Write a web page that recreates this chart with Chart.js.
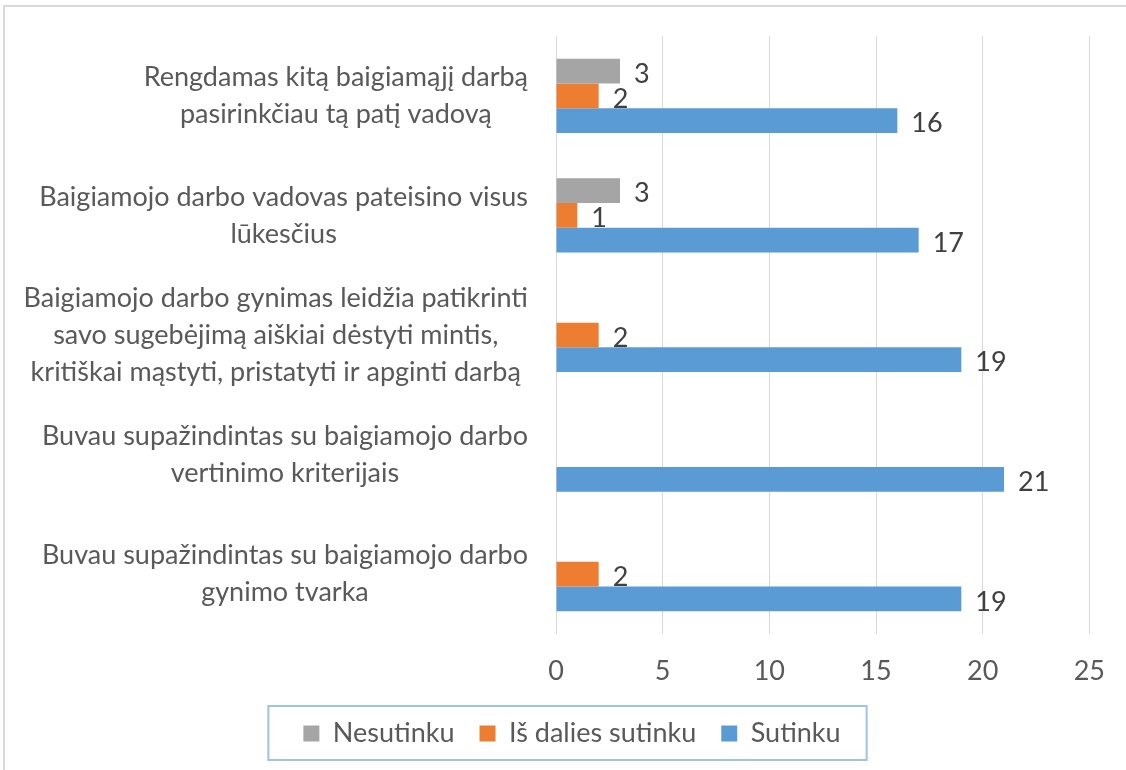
<!DOCTYPE html>
<html>
<head>
<meta charset="utf-8">
<script src="https://cdn.jsdelivr.net/npm/chart.js@4.4.0/dist/chart.umd.min.js"></script>
<style>
  html, body { margin: 0; padding: 0; background: #fff; }
  #wrap { width: 1126px; height: 770px; }
</style>
</head>
<body>
<div id="wrap"><canvas id="chart"></canvas></div>
<script>
const categories = [
  ['Rengdamas kitą baigiamąjį darbą', 'pasirinkčiau tą patį vadovą'],
  ['Baigiamojo darbo vadovas pateisino visus', 'lūkesčius'],
  ['Baigiamojo darbo gynimas leidžia patikrinti', 'savo sugebėjimą aiškiai dėstyti mintis,', 'kritiškai mąstyti, pristatyti ir apginti darbą'],
  ['Buvau supažindintas su baigiamojo darbo', 'vertinimo kriterijais'],
  ['Buvau supažindintas su baigiamojo darbo', 'gynimo tvarka']
];
const seriesNames = ['Nesutinku', 'Iš dalies sutinku', 'Sutinku'];
const nesutinku = [3, 3, null, null, null];
const isDaliesSutinku = [2, 1, 2, null, 2];
const sutinku = [16, 17, 19, 21, 19];
const xTicks = [0, 5, 10, 15, 20, 25];

const FONT = 'Lato';
const FSIZE = 27;
const TEXT = '#595959';

// light frame of the original chart object (top + left edge only)
const frame = {
  id: 'frame',
  beforeDraw(chart) {
    const ctx = chart.ctx;
    ctx.save();
    ctx.fillStyle = '#ffffff';
    ctx.fillRect(0, 0, chart.width, chart.height);
    ctx.fillStyle = '#d9d9d9';
    ctx.fillRect(3, 5, chart.width - 3, 2);
    ctx.fillRect(3, 5, 2, chart.height - 5);
    ctx.restore();
  }
};

// category labels: each label centred on its own lines, right edge near the axis
const catLabels = {
  id: 'catLabels',
  afterDraw(chart) {
    const y = chart.scales.y;
    const ctx = chart.ctx;
    ctx.save();
    ctx.font = FSIZE + 'px ' + FONT;
    ctx.fillStyle = TEXT;
    ctx.textAlign = 'center';
    ctx.textBaseline = 'middle';
    const lineH = 37;
    const right = y.right - 28;
    categories.forEach((lines, i) => {
      const w = Math.max(...lines.map(l => ctx.measureText(l).width));
      const cx = right - w / 2;
      const cy = y.getPixelForValue(i);
      lines.forEach((l, j) => {
        ctx.fillText(l, cx, cy + (j - (lines.length - 1) / 2) * lineH);
      });
    });
    ctx.restore();
  }
};

// value labels at the end of each bar
const valueLabels = {
  id: 'valueLabels',
  afterDatasetsDraw(chart) {
    const ctx = chart.ctx;
    ctx.save();
    ctx.font = FSIZE + 'px ' + FONT;
    ctx.fillStyle = '#404040';
    ctx.textAlign = 'left';
    ctx.textBaseline = 'middle';
    chart.data.datasets.forEach((ds, di) => {
      const meta = chart.getDatasetMeta(di);
      meta.data.forEach((bar, i) => {
        const v = ds.data[i];
        if (v == null) return;
        ctx.fillText(String(v), bar.x + 14, bar.y + 3);
      });
    });
    ctx.restore();
  }
};

// border round the legend
const legendBox = {
  id: 'legendBox',
  afterDraw(chart) {
    const boxes = chart.legend.legendHitBoxes;
    if (!boxes || !boxes.length) return;
    const left = Math.min(...boxes.map(b => b.left)) - 35;
    const right = Math.max(...boxes.map(b => b.left + b.width)) + 26;
    const top = Math.min(...boxes.map(b => b.top)) - 14;
    const bottom = Math.max(...boxes.map(b => b.top + b.height)) + 13;
    const ctx = chart.ctx;
    ctx.save();
    ctx.strokeStyle = '#9dc3e6';
    ctx.lineWidth = 2;
    ctx.strokeRect(left, top, right - left, bottom - top);
    ctx.restore();
  }
};

function graph() {
  const ctx = document.getElementById('chart').getContext('2d');
  new Chart(ctx, {
    type: 'bar',
    data: {
      labels: categories.map(c => c.join(' ')),
      datasets: [
        { label: seriesNames[0], data: nesutinku, backgroundColor: '#a5a5a5' },
        { label: seriesNames[1], data: isDaliesSutinku, backgroundColor: '#ed7d31' },
        { label: seriesNames[2], data: sutinku, backgroundColor: '#5b9bd5' }
      ]
    },
    options: {
      indexAxis: 'y',
      responsive: true,
      maintainAspectRatio: false,
      animation: false,
      categoryPercentage: 0.62,
      barPercentage: 1,
      layout: {
        padding: { left: 53, right: 35, top: 36, bottom: 13 }
      },
      scales: {
        x: {
          min: xTicks[0],
          max: xTicks[xTicks.length - 1],
          ticks: {
            stepSize: xTicks[1] - xTicks[0],
            color: TEXT,
            font: { family: FONT, size: FSIZE },
            padding: 21
          },
          grid: { color: '#d9d9d9', lineWidth: 1, drawTicks: false },
          border: { display: false },
          afterFit(scale) { scale.height = 61; }
        },
        y: {
          ticks: { display: false },
          grid: { display: false },
          border: { display: false },
          afterFit(scale) { scale.width = 503; }
        }
      },
      plugins: {
        legend: {
          position: 'bottom',
          labels: {
            color: TEXT,
            font: { family: FONT, size: FSIZE },
            boxWidth: 16,
            boxHeight: 16,
            padding: 25
          }
        },
        tooltip: { enabled: false }
      }
    },
    plugins: [frame, catLabels, valueLabels, legendBox]
  });
}

document.fonts.load(FSIZE + 'px ' + FONT).then(graph, graph);
</script>
</body>
</html>
